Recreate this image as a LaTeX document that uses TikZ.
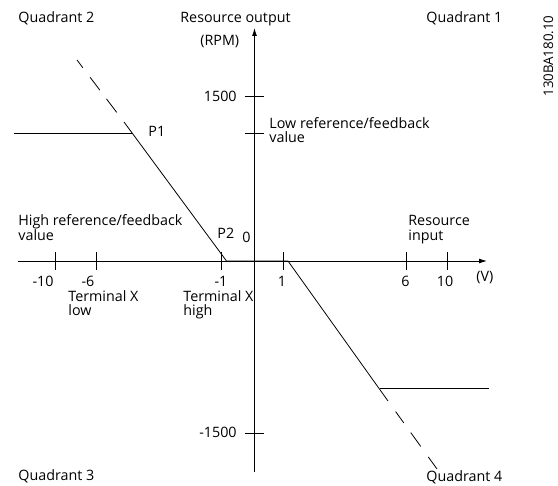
\documentclass[tikz,border=0pt]{standalone}
\usepackage{fontspec}
\setmainfont{Open Sans}
\usetikzlibrary{arrows.meta}
\begin{document}
\begin{tikzpicture}[x=1pt,y=-1pt,line width=0.8pt,
  lbl/.style={inner sep=0pt,font=\fontsize{14.3}{16}\selectfont},
  twoline/.style={inner sep=0pt,align=left,font=\fontsize{14.3}{15.5}\selectfont},
  tight/.style={inner sep=0pt,align=left,font=\fontsize{14.3}{14}\selectfont},
  axisline/.style={-{Latex[length=8pt,width=5pt]},line width=0.9pt},
  curveline/.style={line width=0.8pt},
  tickline/.style={line width=0.8pt}]
\useasboundingbox (0,0) rectangle (558,486);
% axes
\coordinate (xL) at (18,261);
\coordinate (xR) at (487,261);
\coordinate (yB) at (254.5,472.5);
\coordinate (yT) at (254.5,28);
\draw[axisline] (xL) -- (xR);
\draw[axisline] (yB) -- (yT);
% ticks
\foreach \x in {55,96.7,221,283,406,447} \draw[tickline] (\x,252) -- (\x,270);
\foreach \y in {96,133,433} \draw[tickline] (245,\y) -- (264,\y);
% characteristic
\coordinate (L0) at (14,133);
\coordinate (P1) at (132,133);
\coordinate (P2) at (226.5,261);
\coordinate (R1) at (288,261);
\coordinate (P4) at (380,388);
\coordinate (R2) at (489,388);
\coordinate (d1s) at (124,122);
\coordinate (d1e) at (77,60);
\coordinate (d4s) at (388,401);
\coordinate (d4e) at (437,469);
\draw[curveline] (L0) -- (P1);
\draw[curveline] (d1s) -- (P2) -- (R1) -- (d4s);
\draw[curveline] (P4) -- (R2);
\draw[curveline,dash pattern=on 0pt off 12pt on 17pt off 11pt on 16pt off 12pt on 10pt] (d1s) -- (d1e);
\draw[curveline,dash pattern=on 0pt off 13pt on 14pt off 12pt on 17pt off 13pt on 14pt] (d4s) -- (d4e);
% labels
\node[lbl,anchor=base west] (q2) at (18,23) {Quadrant 2};
\node[lbl,anchor=base west] (yl) at (180,23) {Resource output};
\node[lbl,anchor=base west] (rpm) at (200,46) {(RPM)};
\node[lbl,anchor=base west] (q1) at (426,23) {Quadrant 1};
\node[inner sep=0pt,anchor=base west,rotate=90,font=\fontsize{13.3}{14}\selectfont] (code) at (553,97) {130BA180.10};
\node[lbl,anchor=base east] (y1500) at (237,102) {1500};
\node[tight,anchor=base west] (low) at (269,143) {Low reference/feedback\\value};
\node[lbl,anchor=base west] (p1l) at (148,137) {P1};
\node[twoline,anchor=base west] (high) at (18,241) {High reference/feedback\\value};
\node[lbl,anchor=base west] (p2l) at (217,239) {P2};
\node[lbl,anchor=base west] (zero) at (242,243) {0};
\node[twoline,anchor=base west] (rin) at (408,241) {Resource\\input};
\node[lbl,anchor=base] (tm10) at (43,287) {-10};
\node[lbl,anchor=base] (tm6) at (88,287) {-6};
\node[lbl,anchor=base] (tm1) at (221,287) {-1};
\node[lbl,anchor=base] (tp1) at (282,287) {1};
\node[lbl,anchor=base] (tp6) at (405.5,287) {6};
\node[lbl,anchor=base] (tp10) at (445,287) {10};
\node[lbl,anchor=base west] (volt) at (476,282) {(V)};
\node[tight,anchor=base west] (txl) at (68,315.5) {Terminal X\\low};
\node[tight,anchor=base west] (txh) at (183,315.5) {Terminal X\\high};
\node[lbl,anchor=base east] (ym1500) at (237,438) {-1500};
\node[lbl,anchor=base west] (q3) at (18,481) {Quadrant 3};
\node[lbl,anchor=base west] (q4) at (426,482) {Quadrant 4};
\end{tikzpicture}
\end{document}
